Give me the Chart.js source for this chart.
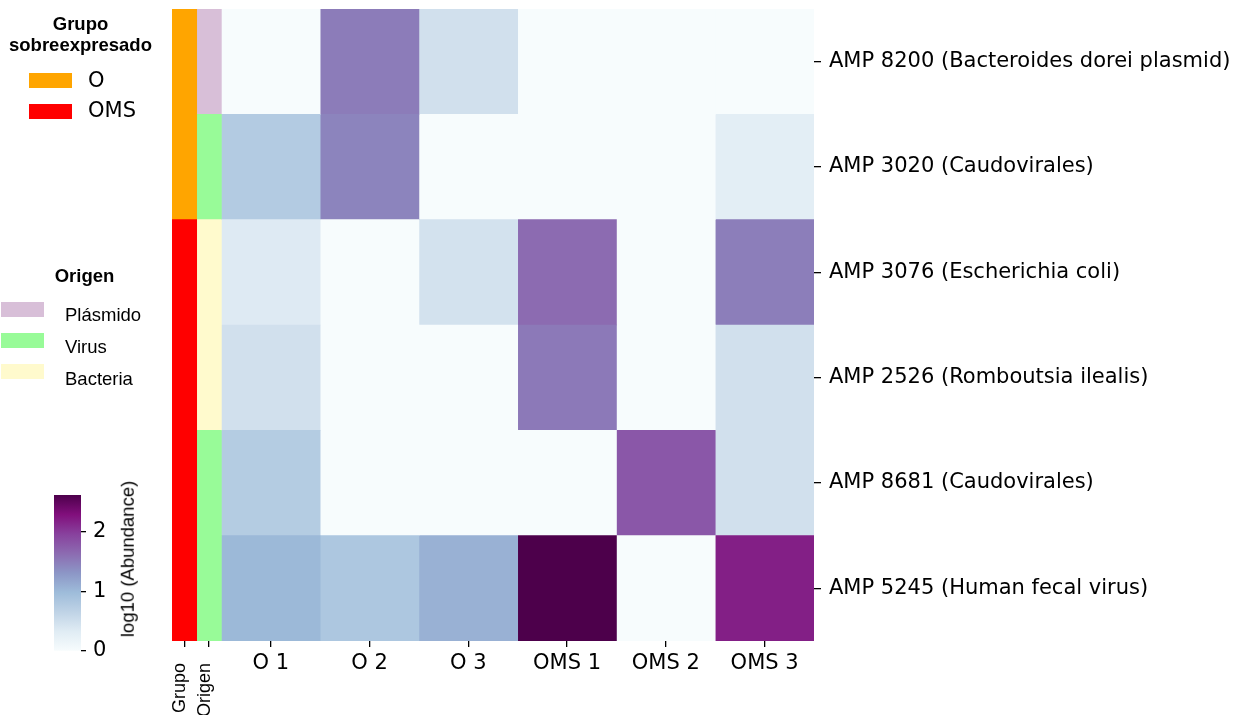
<!DOCTYPE html>
<html>
<head>
<meta charset="utf-8">
<script src="https://cdn.jsdelivr.net/npm/chart.js@4.4.1/dist/chart.umd.min.js"></script>
<style>
  html, body { margin: 0; padding: 0; background: #fff; }
  #wrap { position: relative; width: 1244px; height: 715px; overflow: hidden; }
  #wrap canvas { position: absolute; }
  .txt { position: absolute; white-space: nowrap; color: #000; }
  .sans { font-family: "Liberation Sans", Arial, sans-serif; font-size: 18.5px; line-height: 18.5px; }
  .dv { font-family: "DejaVu Sans", sans-serif; font-size: 21px; line-height: 21px; }
  .bold { font-weight: bold; }
  .swatch { position: absolute; }
</style>
</head>
<body>
<div id="wrap">
  <canvas id="heat" width="1244" height="715" style="left:0;top:0"></canvas>
  <canvas id="cbar" width="70" height="200" style="left:54px;top:475px"></canvas>
</div>
<script>
// Sample columns and AMP rows
const samples = ['O 1', 'O 2', 'O 3', 'OMS 1', 'OMS 2', 'OMS 3'];
const amps = [
  'AMP 8200 (Bacteroides dorei plasmid)',
  'AMP 3020 (Caudovirales)',
  'AMP 3076 (Escherichia coli)',
  'AMP 2526 (Romboutsia ilealis)',
  'AMP 8681 (Caudovirales)',
  'AMP 5245 (Human fecal virus)'
];

// Row annotations
const grupo = ['O', 'O', 'OMS', 'OMS', 'OMS', 'OMS'];
const origen = ['Plásmido', 'Virus', 'Bacteria', 'Bacteria', 'Virus', 'Virus'];
const grupoLevels = ['O', 'OMS'];
const grupoColors = ['#ffa500', '#ff0000'];
const origenLevels = ['Plásmido', 'Virus', 'Bacteria'];
const origenColors = ['#d8bfd8', '#98fb98', '#fffacd'];
const stripLabels = ['Grupo', 'Origen'];

// log10 (Abundance) per sample, in row order of `amps`
const o1   = [0.00, 0.77, 0.35, 0.48, 0.76, 1.01];
const o2   = [1.51, 1.45, 0.00, 0.00, 0.00, 0.83];
const o3   = [0.48, 0.00, 0.46, 0.00, 0.00, 1.08];
const oms1 = [0.00, 0.00, 1.64, 1.53, 0.00, 2.62];
const oms2 = [0.00, 0.00, 0.00, 0.00, 1.79, 0.00];
const oms3 = [0.00, 0.29, 1.49, 0.48, 0.48, 2.19];
const sampleValues = [o1, o2, o3, oms1, oms2, oms3];

const colorbarTicks = [0, 1, 2];

// BuPu colour map
const BUPU = ['#f7fcfd', '#e0ecf4', '#bfd3e6', '#9ebcda', '#8c96c6', '#8c6bb1', '#88419d', '#810f7c', '#4d004b'];
function hexRgb(h) { return [1, 3, 5].map(i => parseInt(h.substr(i, 2), 16)); }
const BUPU_RGB = BUPU.map(hexRgb);
function bupu(t) {
  t = Math.max(0, Math.min(1, t));
  const p = t * (BUPU.length - 1);
  const i = Math.min(BUPU.length - 2, Math.floor(p));
  const f = p - i;
  const a = BUPU_RGB[i], b = BUPU_RGB[i + 1];
  const c = a.map((v, k) => Math.round(v + (b[k] - v) * f));
  return `rgb(${c[0]},${c[1]},${c[2]})`;
}

const vmax = Math.max(...sampleValues.flat());

// Column geometry on the x scale: two narrow annotation strips, then one unit per sample
const STRIP_W = 0.25;
const X_MIN = -STRIP_W * stripLabels.length;
const stripStart = k => X_MIN + STRIP_W * k;

const datasets = [];
datasets.push({
  label: stripLabels[0],
  data: amps.map(() => [stripStart(0), stripStart(0) + STRIP_W]),
  backgroundColor: grupo.map(g => grupoColors[grupoLevels.indexOf(g)])
});
datasets.push({
  label: stripLabels[1],
  data: amps.map(() => [stripStart(1), stripStart(1) + STRIP_W]),
  backgroundColor: origen.map(o => origenColors[origenLevels.indexOf(o)])
});
samples.forEach((s, j) => {
  datasets.push({
    label: s,
    data: amps.map(() => [j, j + 1]),
    backgroundColor: sampleValues[j].map(v => bupu(v / vmax))
  });
});
datasets.forEach(d => Object.assign(d, {
  xAxisID: 'x', yAxisID: 'y', grouped: false,
  barPercentage: 1, categoryPercentage: 1, borderWidth: 0, borderSkipped: false
}));

const tickGrid = { drawOnChartArea: false, drawTicks: true, tickLength: 6, color: '#000', lineWidth: 1.3 };
const dvFont = { family: 'DejaVu Sans', size: 21 };
const noEdgePadding = s => { s.paddingTop = 0; s.paddingBottom = 0; s.paddingLeft = 0; s.paddingRight = 0; };

// The strip-label axis takes no room in the layout; afterwards give it the
// full band under the plot so its rotated labels are not clipped.
const stripAxisBand = {
  id: 'stripAxisBand',
  afterLayout(chart) {
    const s = chart.scales.xs;
    s.bottom = chart.height;
    s.height = s.bottom - s.top;
  }
};

new Chart(document.getElementById('heat'), {
  type: 'bar',
  data: { labels: amps, datasets },
  plugins: [stripAxisBand],
  options: {
    indexAxis: 'y',
    responsive: false,
    animation: false,
    layout: { padding: { left: 172, top: 9, right: 0, bottom: 0 } },
    plugins: { legend: { display: false }, tooltip: { enabled: false } },
    scales: {
      xs: {
        type: 'linear', position: 'bottom', weight: 0, min: X_MIN, max: samples.length,
        afterBuildTicks: s => { s.ticks = stripLabels.map((_, k) => ({ value: stripStart(k) + STRIP_W / 2 })); },
        afterFit: s => { s.height = 0; noEdgePadding(s); },
        ticks: { autoSkip: false, minRotation: 90, maxRotation: 90, padding: 16, labelOffset: -4, color: '#000',
                 font: { family: 'Liberation Sans', size: 18 }, callback: (v, i) => stripLabels[i] },
        grid: tickGrid, border: { display: false }
      },
      x: {
        type: 'linear', position: 'bottom', weight: 1, min: X_MIN, max: samples.length,
        afterBuildTicks: s => { s.ticks = samples.map((_, j) => ({ value: j + 0.5 })); },
        afterFit: s => { s.height = 74; noEdgePadding(s); },
        ticks: { autoSkip: false, minRotation: 0, maxRotation: 0, padding: 4, color: '#000',
                 font: dvFont, callback: (v, i) => samples[i] },
        grid: tickGrid, border: { display: false }
      },
      y: {
        type: 'category', position: 'right', offset: true,
        afterFit: s => { s.width = 430; noEdgePadding(s); },
        ticks: { autoSkip: false, padding: 8, color: '#000', font: dvFont },
        grid: Object.assign({}, tickGrid, { tickLength: 7, offset: false }), border: { display: false }
      }
    }
  }
});

// Colour bar
new Chart(document.getElementById('cbar'), {
  type: 'bar',
  data: {
    labels: [''],
    datasets: [{
      data: [[0, vmax]],
      barPercentage: 1, categoryPercentage: 1, borderWidth: 0, borderSkipped: false,
      backgroundColor: ctx => {
        const chart = ctx.chart;
        const ys = chart.scales.y;
        if (!chart.chartArea || !ys) return BUPU[0];
        const g = chart.ctx.createLinearGradient(0, ys.getPixelForValue(0), 0, ys.getPixelForValue(vmax));
        BUPU.forEach((c, i) => g.addColorStop(i / (BUPU.length - 1), c));
        return g;
      }
    }]
  },
  options: {
    responsive: false,
    animation: false,
    layout: { padding: { left: 0, top: 20, right: 0, bottom: 24 } },
    plugins: { legend: { display: false }, tooltip: { enabled: false } },
    scales: {
      x: { display: false },
      y: {
        position: 'right', min: 0, max: vmax,
        afterBuildTicks: s => { s.ticks = colorbarTicks.map(v => ({ value: v })); },
        afterFit: s => { s.width = 43; noEdgePadding(s); },
        ticks: { padding: 7, color: '#000', font: dvFont },
        grid: Object.assign({}, tickGrid, { tickLength: 5 }), border: { display: false }
      }
    }
  }
});

// Legends and colour bar caption
const wrap = document.getElementById('wrap');
function addText(txt, cls, x, baseline, size, center) {
  const d = document.createElement('div');
  d.className = 'txt ' + cls;
  d.textContent = txt;
  d.style.left = x + 'px';
  d.style.top = (baseline - 0.846 * size) + 'px';
  if (center) d.style.transform = 'translateX(-50%)';
  wrap.appendChild(d);
}
function addSwatch(color, x, y, w, h) {
  const d = document.createElement('div');
  d.className = 'swatch';
  Object.assign(d.style, { left: x + 'px', top: y + 'px', width: w + 'px', height: h + 'px', background: color });
  wrap.appendChild(d);
}

addText('Grupo', 'sans bold', 80.5, 31, 18.5, true);
addText('sobreexpresado', 'sans bold', 80.5, 52, 18.5, true);
grupoLevels.forEach((g, i) => {
  addSwatch(grupoColors[i], 29, 73 + 31 * i, 43, 15);
  addText(g, 'dv', 88, 88 + 30 * i, 21, false);
});

addText('Origen', 'sans bold', 84.5, 283, 18.5, true);
origenLevels.forEach((o, i) => {
  addSwatch(origenColors[i], 1, 302 + 31 * i, 43, 15);
  addText(o, 'sans', 65, 322 + 32 * i, 18.5, false);
});

const cap = document.createElement('div');
cap.className = 'txt sans';
cap.textContent = 'log10 (Abundance)';
Object.assign(cap.style, { left: '128px', top: '559px', transform: 'translate(-50%,-50%) rotate(-90deg)' });
wrap.appendChild(cap);
</script>
</body>
</html>
